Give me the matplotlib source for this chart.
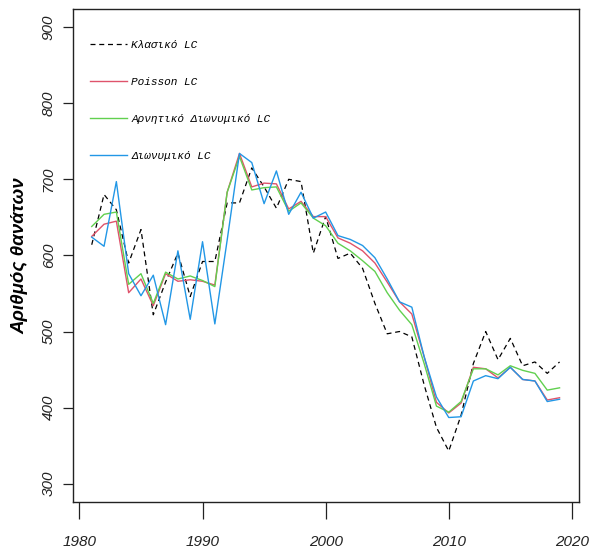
import matplotlib
matplotlib.use('Agg')
import matplotlib.pyplot as plt
import numpy as np

years = np.arange(1981, 2020)

classic_lc = [614, 680, 660, 590, 634, 522, 565, 603, 546, 592,
              592, 669, 669, 715, 690, 662, 700, 697, 603, 651,
              596, 603, 583, 537, 497, 500, 493, 430, 374, 343,
              390, 458, 500, 463, 491, 455, 460, 445, 460]
poisson_lc = [625, 641, 645, 551, 569, 534, 576, 566, 568, 566,
              561, 683, 734, 690, 695, 694, 661, 671, 651, 651,
              623, 616, 606, 590, 565, 539, 523, 467, 407, 393,
              406, 453, 451, 439, 453, 437, 435, 410, 413]
negbin_lc = [638, 654, 657, 562, 576, 537, 578, 569, 573, 567,
             559, 683, 730, 686, 689, 690, 658, 669, 649, 639,
             616, 606, 593, 579, 551, 528, 509, 458, 402, 394,
             408, 451, 451, 443, 455, 449, 445, 423, 426]
binom_lc = [624, 612, 697, 576, 547, 574, 509, 606, 516, 618,
            510, 620, 734, 722, 668, 711, 654, 683, 649, 657,
            626, 621, 613, 597, 569, 539, 532, 467, 414, 387,
            388, 435, 442, 438, 453, 437, 435, 408, 411]

labels = ['Κλασικό LC', 'Poisson LC', 'Αρνητικό Διωνυμικό LC', 'Διωνυμικό LC']
x_ticks = [1980, 1990, 2000, 2010, 2020]
y_ticks = [300, 400, 500, 600, 700, 800, 900]

fig = plt.figure(figsize=(5.93, 5.52), dpi=100)
ax = fig.add_axes([0.1223, 0.0906, 0.8537, 0.8934])

ax.plot(years, classic_lc, color='black', linestyle=(0, (4, 3)), linewidth=0.9, label=labels[0])
ax.plot(years, poisson_lc, color='#DF536B', linewidth=1.0, label=labels[1])
ax.plot(years, negbin_lc, color='#61D04F', linewidth=1.0, label=labels[2])
ax.plot(years, binom_lc, color='#2297E6', linewidth=1.0, label=labels[3])

ax.set_xlim(1979.44, 2020.56)
ax.set_ylim(276, 924)
ax.set_xticks(x_ticks)
ax.set_yticks(y_ticks)

tick_font = dict(family='Liberation Sans', style='italic', size=11)
ax.set_xticklabels([str(t) for t in x_ticks], fontdict=tick_font)
ax.set_yticklabels([str(t) for t in y_ticks], fontdict=tick_font, rotation=90, va='center')
ax.tick_params(axis='x', length=12, width=0.9, pad=12, colors='#222222')
ax.tick_params(axis='y', length=7, width=0.9, pad=5, colors='#222222')
for s in ax.spines.values():
    s.set_linewidth(1.0)
    s.set_color('#222222')

ax.set_ylabel('Αριθμός θανάτων', family='Liberation Sans', weight='bold',
              style='italic', size=13.5, labelpad=10)

leg = ax.legend(loc='upper left', bbox_to_anchor=(0.015, 0.958), frameon=False,
                handlelength=3.3, handletextpad=0.4, labelspacing=2.45,
                prop=dict(family='Liberation Mono', style='italic', size=8))

fig.savefig('out.png', dpi=100)
